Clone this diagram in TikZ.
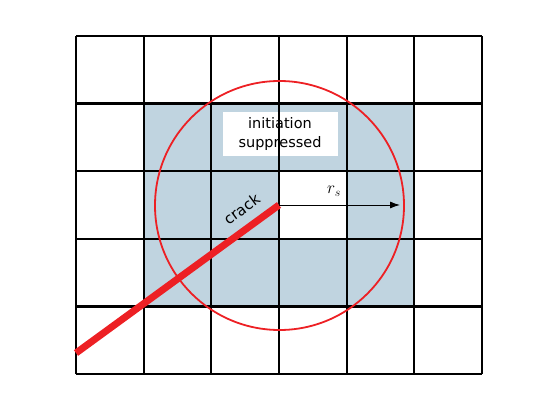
\documentclass[tikz,border=0pt]{standalone}
\usepackage{amsmath}
\usepackage{fontspec}
\setmainfont{DejaVu Sans}
\usetikzlibrary{arrows.meta}

\definecolor{zoneblue}{RGB}{192,212,224}
\definecolor{crackred}{RGB}{237,32,36}

\tikzset{
	gridline/.style={line width=2.2pt, black},
	crackline/.style={line width=7pt, crackred},
	zonecircle/.style={line width=1.8pt, crackred},
	radiusarrow/.style={line width=0.9pt, -{Latex[length=10pt,width=7pt]}},
	notebox/.style={fill=white, minimum width=115pt, minimum height=44pt, align=center,
		font=\fontsize{14.5}{18.5}\selectfont}
}

\begin{document}
\begin{tikzpicture}[x=1pt,y=1pt]
		
		\useasboundingbox (0,0) rectangle (553,412);
		
		% shaded cells, one cell left white
		\fill[zoneblue] (143.67,105.6) rectangle (414.33,308.4);
		\fill[white] (279,173.2) rectangle (346.67,240.8);
		
		\node[notebox] (Note) at (280,278) {initiation\\suppressed};
		
		% grid
		\foreach \i in {0,...,6}
		\draw[gridline] (76+\i*67.67,38) -- (76+\i*67.67,376);
		\foreach \j in {0,...,5}
		\draw[gridline] (76,38+\j*67.6) -- (482,38+\j*67.6);
		
		\coordinate (Tip) at (279,207);
		\coordinate (Start) at (76,59);
		\coordinate (REnd) at (400,207);
		
		\draw[zonecircle] (279.5,206.5) circle (124.5);
		
		\draw[crackline] (Start) -- (Tip)
		node[pos=0.87, sloped, above=6pt, text=black, font=\fontsize{15}{18}\selectfont] (CrackLabel) {crack};
		
		\draw[radiusarrow] (Tip) -- (REnd);
		\node[font=\fontsize{18}{20}\selectfont] (RLabel) at (334,221) {$r_s$};
		
		\end{tikzpicture}
\end{document}
